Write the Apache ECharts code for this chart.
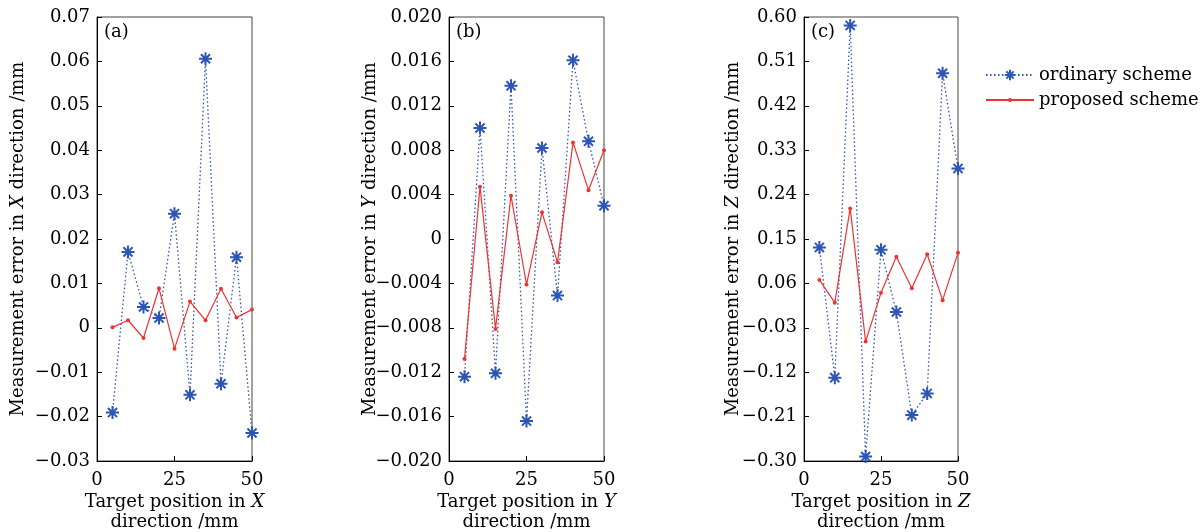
<!DOCTYPE html>
<html><head><meta charset="utf-8">
<script src="https://cdn.jsdelivr.net/npm/echarts@6/dist/echarts.min.js"></script>
<style>html,body{margin:0;padding:0;background:#fff}#c{width:1200px;height:532px}</style>
</head><body><div id="c"></div>
<script>
// ---- data ----
const xPos = [5, 10, 15, 20, 25, 30, 35, 40, 45, 50];
const xTicks = [0, 25, 50];

const ordinaryX = [-0.0191, 0.0171, 0.0047, 0.0022, 0.0257, -0.0151, 0.0606, -0.0126, 0.0159, -0.0237];
const proposedX = [0.0001, 0.0017, -0.0023, 0.0089, -0.0047, 0.0059, 0.0017, 0.0088, 0.0023, 0.0041];

const ordinaryY = [-0.0124, 0.0100, -0.0121, 0.0138, -0.0164, 0.0082, -0.0051, 0.0161, 0.0088, 0.0030];
const proposedY = [-0.0108, 0.0047, -0.0081, 0.0039, -0.0041, 0.0024, -0.0021, 0.0087, 0.0044, 0.0080];

const ordinaryZ = [0.133, -0.131, 0.583, -0.291, 0.128, 0.002, -0.207, -0.163, 0.486, 0.293];
const proposedZ = [0.067, 0.021, 0.212, -0.058, 0.041, 0.114, 0.050, 0.119, 0.026, 0.122];

const yTicksA = [-0.03, -0.02, -0.01, 0, 0.01, 0.02, 0.03, 0.04, 0.05, 0.06, 0.07];
const yLabelsA = ['\u22120.03','\u22120.02','\u22120.01','0','0.01','0.02','0.03','0.04','0.05','0.06','0.07'];
const yTicksB = [-0.020, -0.016, -0.012, -0.008, -0.004, 0, 0.004, 0.008, 0.012, 0.016, 0.020];
const yLabelsB = ['\u22120.020','\u22120.016','\u22120.012','\u22120.008','\u22120.004','0','0.004','0.008','0.012','0.016','0.020'];
const yTicksC = [-0.30, -0.21, -0.12, -0.03, 0.06, 0.15, 0.24, 0.33, 0.42, 0.51, 0.60];
const yLabelsC = ['\u22120.30','\u22120.21','\u22120.12','\u22120.03','0.06','0.15','0.24','0.33','0.42','0.51','0.60'];

const panelLabels = ['(a)', '(b)', '(c)'];
const dirs = ['X', 'Y', 'Z'];
const seriesNames = ['ordinary scheme', 'proposed scheme'];

// ---- styling ----
const FONT = 'DejaVu Serif';
const FS = 18;
const BLUE = '#2c55b5';
const RED = '#f03232';
const asterisk = 'path://M0 5 L10 5 M5 0 L5 10 M1.5 1.5 L8.5 8.5 M8.5 1.5 L1.5 8.5';

const grids = [
  {left: 97, right: 948, top: 17, bottom: 71},
  {left: 449, right: 596, top: 17, bottom: 71},
  {left: 804, right: 242, top: 17, bottom: 71}
];
const yNameGaps = [70, 70, 62];
const yTicks = [yTicksA, yTicksB, yTicksC];
const yLabels = [yLabelsA, yLabelsB, yLabelsC];
const ords = [ordinaryX, ordinaryY, ordinaryZ];
const props = [proposedX, proposedY, proposedZ];

function labelFor(ticks, labels) {
  return function (v) {
    for (let i = 0; i < ticks.length; i++) if (Math.abs(ticks[i] - v) < 1e-9) return labels[i];
    return '';
  };
}

const rich = {i: {fontStyle: 'italic', fontFamily: FONT, fontSize: FS, color: '#000'}};
const legendText = {fontFamily: FONT, fontSize: FS, color: '#000'};

const option = {
  animation: false,
  backgroundColor: '#fff',
  textStyle: {fontFamily: FONT},
  grid: grids.map(g => Object.assign({show: true, borderColor: '#444', borderWidth: 1, backgroundColor: 'transparent', containLabel: false, outerBoundsMode: 'none'}, g)),
  legend: [
    {orient: 'vertical', left: 980, top: 61, itemWidth: 48, itemHeight: 13, data: [seriesNames[0]], textStyle: legendText},
    {orient: 'vertical', left: 980, top: 86, itemWidth: 48, itemHeight: 5, data: [seriesNames[1]], textStyle: legendText}
  ],
  graphic: panelLabels.map((t, k) => ({
    type: 'text', left: grids[k].left + 7, top: 23,
    style: {text: t, fontFamily: FONT, fontSize: FS, fill: '#000'}
  })),
  xAxis: dirs.map((d, k) => ({
    type: 'value', gridIndex: k, min: 0, max: 50,
    name: 'Target position in {i|' + d + '}\ndirection /mm',
    nameLocation: 'middle', nameGap: 31, nameMoveOverlap: false,
    nameTextStyle: {fontFamily: FONT, fontSize: FS, color: '#000', lineHeight: 20, rich: rich},
    axisLine: {onZero: false, lineStyle: {color: '#000', width: 1}},
    axisTick: {inside: true, length: 5, customValues: xTicks, lineStyle: {color: '#000'}},
    axisLabel: {customValues: xTicks, fontFamily: FONT, fontSize: FS, color: '#000', margin: 10},
    splitLine: {show: false}
  })),
  yAxis: dirs.map((d, k) => ({
    type: 'value', gridIndex: k, min: yTicks[k][0], max: yTicks[k][yTicks[k].length - 1],
    name: 'Measurement error in {i|' + d + '} direction /mm',
    nameLocation: 'middle', nameGap: yNameGaps[k], nameMoveOverlap: false,
    nameTextStyle: {fontFamily: FONT, fontSize: FS, color: '#000', rich: rich},
    axisLine: {onZero: false, lineStyle: {color: '#000', width: 1}},
    axisTick: {inside: true, length: 5, customValues: yTicks[k], lineStyle: {color: '#000'}},
    axisLabel: {customValues: yTicks[k], formatter: labelFor(yTicks[k], yLabels[k]), fontFamily: FONT, fontSize: FS, color: '#000', margin: 7},
    splitLine: {show: false}
  })),
  series: []
};

for (let k = 0; k < 3; k++) {
  option.series.push({
    name: seriesNames[0], type: 'line', xAxisIndex: k, yAxisIndex: k,
    data: xPos.map((x, i) => [x, ords[k][i]]),
    symbol: asterisk, symbolSize: 13,
    itemStyle: {color: BLUE, borderColor: BLUE, borderWidth: 2},
    lineStyle: {color: BLUE, width: 1.3, type: [1.5, 2.5]},
    z: 2
  });
  option.series.push({
    name: seriesNames[1], type: 'line', xAxisIndex: k, yAxisIndex: k,
    data: xPos.map((x, i) => [x, props[k][i]]),
    symbol: 'circle', symbolSize: 4,
    itemStyle: {color: RED},
    lineStyle: {color: RED, width: 1.2},
    z: 3
  });
}

const chart = echarts.init(document.getElementById('c'), null, {renderer: 'canvas'});
chart.setOption(option);
</script></body></html>
